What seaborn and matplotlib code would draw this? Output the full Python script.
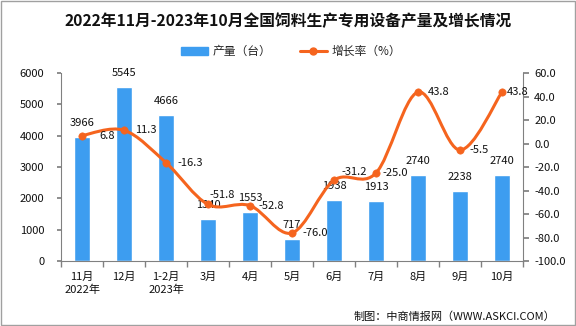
import numpy as np
import pandas as pd
import matplotlib
matplotlib.use("Agg")
import matplotlib.pyplot as plt
import seaborn as sns
from matplotlib.path import Path
from matplotlib.patches import PathPatch, Rectangle
from matplotlib.lines import Line2D

categories = ["11月\n2022年", "12月", "1-2月\n2023年", "3月", "4月", "5月", "6月", "7月", "8月", "9月", "10月"]
output = [3966, 5545, 4666, 1340, 1553, 717, 1938, 1913, 2740, 2238, 2740]
growth = [6.8, 11.3, -16.3, -51.8, -52.8, -76.0, -31.2, -25.0, 43.8, -5.5, 43.8]
left_ticks = [0, 1000, 2000, 3000, 4000, 5000, 6000]
right_ticks = [-100, -80, -60, -40, -20, 0, 20, 40, 60]

# label placement (pixels) for the growth labels - style only
lab_dx = [17, 11, 11, 1, 8, 10, 7, 6, 10, 9, 5]
lab_dy = [0, 0, 0, 9, 0, 0, 8, 0, 0, 0, 0]

sns.set_theme(style="white")
plt.rcParams['font.family'] = ['Noto Sans CJK SC', 'DejaVu Sans']

BAR = "#3D9DF0"
LINE = "#F5641E"
TXT = "#111111"
PX = 0.72  # points per pixel at dpi 100

fig = plt.figure(figsize=(5.76, 3.26), dpi=100)
ax = fig.add_axes([0.106, 0.199, 0.802, 0.577])
df = pd.DataFrame({"cat": categories, "val": output})
sns.barplot(data=df, x="cat", y="val", ax=ax, color=BAR, width=0.37, saturation=1)
ax.set_xlim(-0.5, len(categories) - 0.5)
ax.set_ylim(0, 6000)
ax.set_yticks(left_ticks)
ax.set_yticklabels([str(t) for t in left_ticks], fontsize=8, color=TXT)
ax.set_xlabel("")
ax.set_ylabel("")
ax.set_xticks(range(len(categories)))
ax.set_xticklabels(categories, fontsize=8, color=TXT, linespacing=1.25)
ax.tick_params(axis="x", length=0, pad=8)
ax.set_xticks(np.arange(-0.5, len(categories)), minor=True)
ax.tick_params(axis="x", which="minor", length=4, color="#808080", direction="out", bottom=True)
ax.tick_params(axis="y", length=3, color="#808080", direction="out", left=True, pad=9)
for s in ["top", "right"]:
    ax.spines[s].set_visible(False)
for s in ["left", "bottom"]:
    ax.spines[s].set_color("#808080")
    ax.spines[s].set_linewidth(0.8)

for i, v in enumerate(output):
    ax.annotate(str(v), (i, v), xytext=(0, 14 * PX), textcoords="offset points",
                ha="center", va="center", fontsize=8, color=TXT)

ax2 = ax.twinx()
ax2.set_ylim(-100, 60)
ax2.set_yticks(right_ticks)
ax2.set_yticklabels([f"{t:.1f}" for t in right_ticks], fontsize=8, color=TXT)
ax2.tick_params(axis="y", length=4, color="#808080", direction="out", right=True, pad=4)
for s in ["top", "left", "bottom"]:
    ax2.spines[s].set_visible(False)
ax2.spines["right"].set_color("#808080")
ax2.spines["right"].set_linewidth(0.8)

# smooth curve through the points (Catmull-Rom as cubic Bezier path)
x = np.arange(len(growth), dtype=float)
y = np.array(growth, dtype=float)
verts = [(x[0], y[0])]
codes = [Path.MOVETO]
n = len(x)
for i in range(n - 1):
    p0 = (x[i - 1], y[i - 1]) if i > 0 else (x[i], y[i])
    p1 = (x[i], y[i])
    p2 = (x[i + 1], y[i + 1])
    p3 = (x[i + 2], y[i + 2]) if i + 2 < n else (x[i + 1], y[i + 1])
    t = 1 / 6.0
    c1 = (p1[0] + (p2[0] - p0[0]) * t, p1[1] + (p2[1] - p0[1]) * t)
    c2 = (p2[0] - (p3[0] - p1[0]) * t, p2[1] - (p3[1] - p1[1]) * t)
    verts += [c1, c2, p2]
    codes += [Path.CURVE4] * 3
ax2.add_patch(PathPatch(Path(verts, codes), facecolor="none", edgecolor=LINE, lw=2.2, zorder=3))
sns.scatterplot(x=x, y=y, ax=ax2, color=LINE, s=28, edgecolor=LINE, zorder=4, legend=False)

for i, v in enumerate(growth):
    ax2.annotate(f"{v:.1f}", (i, v), xytext=(lab_dx[i] * PX, lab_dy[i] * PX), textcoords="offset points",
                 ha="left", va="center", fontsize=8, color=TXT, zorder=5)

fig.text(0.5, 0.935, "2022年11月-2023年10月全国饲料生产专用设备产量及增长情况",
         ha="center", va="center", fontsize=11.3, fontweight="bold", color=TXT)

handles = [Rectangle((0, 0), 1, 1, color=BAR),
           Line2D([0], [0], color=LINE, lw=2.2, marker="o", markersize=5)]
fig.legend(handles, ["产量（台）", "增长率（%）"], loc="center", bbox_to_anchor=(0.505, 0.842),
           ncol=2, frameon=False, fontsize=8.5, handlelength=2.3, handleheight=0.6,
           handletextpad=0.4, columnspacing=2.4)

fig.text(0.964, 0.028, "制图：中商情报网（WWW.ASKCI.COM）", ha="right", va="center", fontsize=8, color=TXT)

fig.add_artist(Rectangle((0.001, 0.002), 0.997, 0.995, transform=fig.transFigure,
                         fill=False, edgecolor="#A0A0A0", lw=1))

fig.savefig("out.png", dpi=100)
